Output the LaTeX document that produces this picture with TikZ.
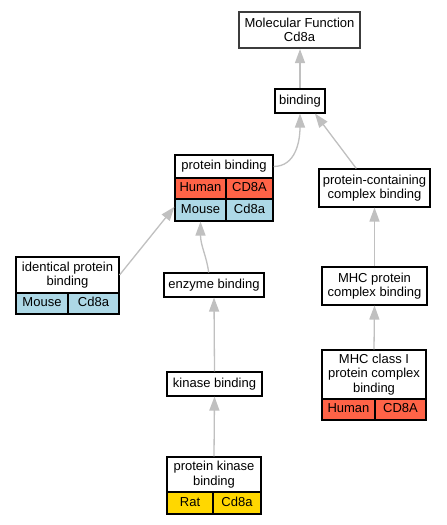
\documentclass[tikz,border=0pt]{standalone}
\usepackage{fontspec}
\newfontfamily\lab{Liberation Sans}
\usetikzlibrary{arrows.meta}
\definecolor{human}{RGB}{255,99,71}
\definecolor{mouse}{RGB}{173,216,230}
\definecolor{rat}{RGB}{255,215,0}
\definecolor{edgegray}{RGB}{192,192,192}
\definecolor{mfborder}{RGB}{60,60,60}
\begin{document}
\begin{tikzpicture}[x=1bp,y=-1bp,
 every node/.style={font=\lab\fontsize{13bp}{14.5bp}\selectfont, inner sep=0pt, align=center},
 box/.style={draw=black, line width=1.1bp, fill=white},
 cell/.style={box, text height=9.3bp, text depth=2.7bp},
 edge/.style={draw=edgegray, line width=1.3bp, -{Triangle[length=14bp,width=10bp]}}]
\useasboundingbox[fill=white] (0,0) rectangle (447,525);

\node[box, line width=2.2bp, draw=mfborder, minimum width=121bp, minimum height=36bp] (mf) at (299.5,30) {Molecular Function\\Cd8a};
\node[cell, minimum width=50bp, minimum height=24bp] (bind) at (300,101) {binding};

\node[cell, minimum width=98bp, minimum height=23bp] (pbt) at (224,166.5) {protein binding};
\node[cell, fill=human, minimum width=51bp, minimum height=21bp] (pbh1) at (200.5,188.5) {Human};
\node[cell, fill=human, minimum width=47bp, minimum height=21bp] (pbh2) at (249.5,188.5) {CD8A};
\node[cell, fill=mouse, minimum width=51bp, minimum height=22bp] (pbm1) at (200.5,210) {Mouse};
\node[cell, fill=mouse, minimum width=47bp, minimum height=22bp] (pbm2) at (249.5,210) {Cd8a};

\node[box, minimum width=111bp, minimum height=38bp] (pcb) at (374.5,188) {protein-containing\\complex binding};

\node[box, minimum width=103bp, minimum height=36bp] (ipbt) at (67.5,275) {identical protein\\binding};
\node[cell, fill=mouse, minimum width=52bp, minimum height=21bp] (ipbm1) at (42,303.5) {Mouse};
\node[cell, fill=mouse, minimum width=51bp, minimum height=21bp] (ipbm2) at (93.5,303.5) {Cd8a};

\node[cell, minimum width=100bp, minimum height=24bp] (enz) at (214,285) {enzyme binding};
\node[box, minimum width=105bp, minimum height=38bp] (mhcp) at (374.5,286) {MHC protein\\complex binding};

\node[cell, minimum width=95bp, minimum height=24bp] (kin) at (214.5,384) {kinase binding};

\node[box, minimum width=104bp, minimum height=49bp] (mhc1t) at (374,374.5) {MHC class I\\protein complex\\binding};
\node[cell, fill=human, minimum width=53bp, minimum height=21bp] (mhc1h1) at (348.5,409.5) {Human};
\node[cell, fill=human, minimum width=51bp, minimum height=21bp] (mhc1h2) at (400.5,409.5) {CD8A};

\node[box, minimum width=94bp, minimum height=35bp] (pkbt) at (214,474.5) {protein kinase\\binding};
\node[cell, fill=rat, minimum width=46bp, minimum height=22bp] (pkbr1) at (190,503) {Rat};
\node[cell, fill=rat, minimum width=48bp, minimum height=22bp] (pkbr2) at (237,503) {Cd8a};

\draw[edge] (bind.north) -- (bind.north |- mf.south);
\draw[edge] (pbt.east) .. controls +(22,0) and +(0,28) .. (bind.south);
\draw[edge] (pcb.133) -- (bind.-40);
\draw[edge] (ipbt.east) -- (pbm1.173);
\draw[edge] (enz.113) .. controls +(-2,-16) and +(0,24) .. (pbm1.south);
\draw[edge] (kin.north) -- (enz.south);
\draw[edge] (pkbt.north) -- (kin.south);
\draw[edge] (mhcp.north) -- (pcb.south);
\draw[edge] (mhc1t.north) -- (mhcp.south);
\end{tikzpicture}
\end{document}
